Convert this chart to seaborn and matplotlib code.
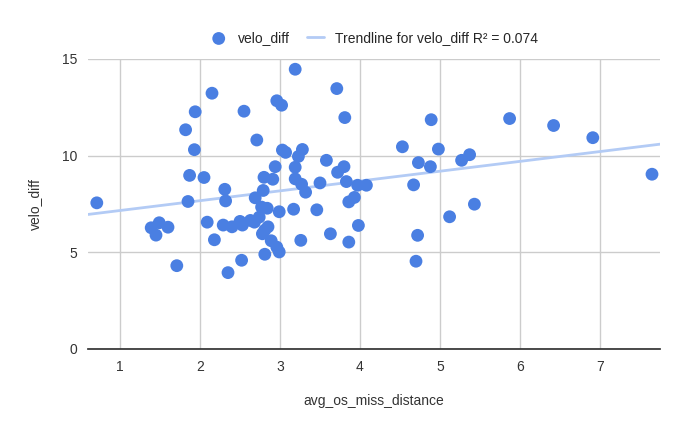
import numpy as np
import pandas as pd
import matplotlib
matplotlib.use("Agg")
import matplotlib.pyplot as plt
import seaborn as sns

avg_os_miss_distance = [0.71,1.39,1.49,1.45,1.60,1.71,1.82,1.94,1.93,1.87,1.85,2.05,2.15,2.09,2.18,2.31,2.32,2.29,2.40,2.35,
    2.52,2.55,2.50,2.53,2.63,2.68,2.74,2.71,2.69,2.79,2.80,2.91,2.94,2.77,2.84,2.85,2.78,2.81,2.89,2.96,
    2.99,2.81,2.99,2.96,3.02,3.03,3.07,3.19,3.23,3.28,3.19,3.19,3.27,3.32,3.17,3.26,3.46,3.50,3.58,3.63,
    3.71,3.81,3.72,3.80,3.83,3.86,3.93,3.98,3.86,3.97,4.08,4.53,4.73,4.67,4.89,4.88,4.98,4.72,4.70,5.12,
    5.27,5.37,5.43,5.87,6.42,6.91,7.65]
velo_diff = [7.56,6.27,6.53,5.89,6.30,4.31,11.34,12.27,10.31,8.98,7.63,8.87,13.23,6.56,5.65,8.26,7.66,6.41,6.32,3.95,
    4.59,12.30,6.60,6.41,6.65,6.56,6.82,10.81,7.82,8.20,8.88,8.78,9.43,7.34,7.28,6.32,5.96,6.15,5.60,5.27,
    5.02,4.90,7.10,12.84,12.61,10.29,10.17,14.47,9.96,10.32,9.40,8.80,8.52,8.11,7.23,5.62,7.20,8.59,9.76,5.96,
    13.47,11.97,9.14,9.43,8.66,7.61,7.84,6.39,5.53,8.47,8.47,10.46,9.64,8.49,11.86,9.43,10.34,5.88,4.54,6.84,
    9.76,10.05,7.49,11.92,11.56,10.93,9.04]
x_ticks = [1,2,3,4,5,6,7]
y_ticks = [0,5,10,15]

df = pd.DataFrame({"avg_os_miss_distance": avg_os_miss_distance, "velo_diff": velo_diff})

sns.set_theme(style="white")
plt.rcParams['font.family'] = ['Liberation Sans', 'DejaVu Sans']
fig = plt.figure(figsize=(6.8, 4.22), dpi=100)
ax = fig.add_axes([88/680, 73/422, 572/680, 290/422])

xlim = (0.6, 7.75)
x = np.array(avg_os_miss_distance); y = np.array(velo_diff)
k, b = np.polyfit(x, y, 1)
r2 = np.corrcoef(x, y)[0, 1] ** 2
xs = np.array(xlim)
ax.plot(xs, k * xs + b, color="#b3cbf5", lw=2, zorder=2,
        label=f"Trendline for velo_diff R² = {0.074:.3f}")
sns.scatterplot(data=df, x="avg_os_miss_distance", y="velo_diff", ax=ax, color="#4a7fe2",
                s=85, edgecolor="none", zorder=3, label="velo_diff")

ax.set_xlim(*xlim); ax.set_ylim(0, 15)
ax.set_xticks(x_ticks); ax.set_yticks(y_ticks)
ax.grid(True, color="#cccccc", lw=1)
ax.set_axisbelow(True)
for s in ["top", "right", "left"]:
    ax.spines[s].set_visible(False)
ax.spines["bottom"].set_color("#333333")
ax.tick_params(length=0, labelsize=10, colors="#333333", pad=8)
ax.set_xlabel("avg_os_miss_distance", fontsize=10, color="#333333", labelpad=14)
ax.set_ylabel("velo_diff", fontsize=10, color="#333333", labelpad=14)

h, l = ax.get_legend_handles_labels()
ax.legend(h[::-1], l[::-1], loc="lower center", bbox_to_anchor=(0.5, 1.0), ncol=2, frameon=False,
          fontsize=10, handlelength=1.2, columnspacing=1.2, borderaxespad=0.6)
fig.savefig("out.png", dpi=100)
